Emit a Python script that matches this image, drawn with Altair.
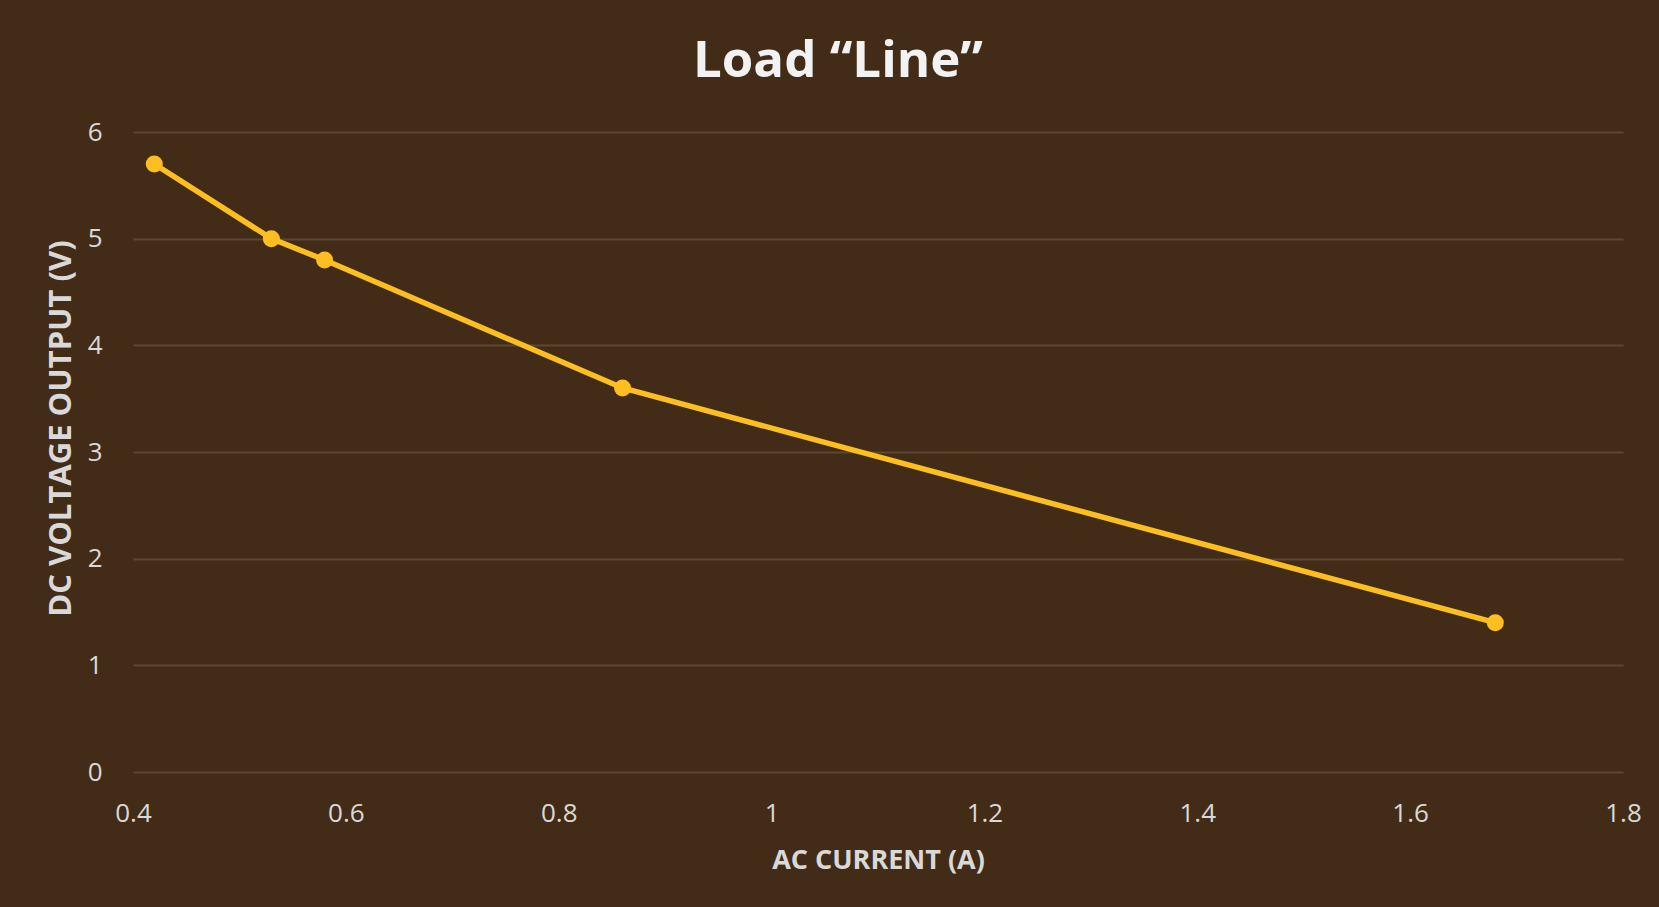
import altair as alt
import pandas as pd

ac_current = [0.42, 0.53, 0.58, 0.86, 1.68]
dc_voltage = [5.7, 5.0, 4.8, 3.6, 1.4]
x_ticks = [0.4, 0.6, 0.8, 1.0, 1.2, 1.4, 1.6, 1.8]
y_ticks = [0, 1, 2, 3, 4, 5, 6]

df = pd.DataFrame({"current": ac_current, "voltage": dc_voltage})

BG = "#432c17"
LINE = "#fdbf1f"
GRID = "#5a4832"
LABEL = "#d9d9d9"
FONT = "Open Sans"

x_enc = alt.X(
    "current:Q",
    scale=alt.Scale(domain=[0.4, 1.8], nice=False, zero=False),
    axis=alt.Axis(
        values=x_ticks,
        format="~g",
        title="AC CURRENT (A)",
        grid=False,
        domain=False,
        ticks=False,
        labelFontSize=26,
        labelColor=LABEL,
        labelFont=FONT,
        labelPadding=28,
        labelFlush=False,
        titleFontSize=27,
        titleFont=FONT,
        titleFontWeight="bold",
        titleColor=LABEL,
        titleBaseline="alphabetic",
        titleY=96,
    ),
)
y_enc = alt.Y(
    "voltage:Q",
    scale=alt.Scale(domain=[0, 6], nice=False),
    axis=alt.Axis(
        values=y_ticks,
        format="~g",
        title="DC VOLTAGE OUTPUT (V)",
        grid=True,
        gridColor=GRID,
        gridWidth=2,
        domain=False,
        ticks=False,
        labelFontSize=26,
        labelColor=LABEL,
        labelFont=FONT,
        labelPadding=31,
        titleFontSize=31,
        titleFont=FONT,
        titleFontWeight="bold",
        titleColor=LABEL,
        titleBaseline="alphabetic",
        titleX=-63,
        titleY=296,
    ),
)

line = alt.Chart(df).mark_line(color=LINE, strokeWidth=5.5).encode(x=x_enc, y=y_enc)
pts = alt.Chart(df).mark_point(filled=True, color=LINE, size=290, opacity=1).encode(
    x="current:Q", y="voltage:Q"
)

chart = (
    alt.layer(line, pts)
    .properties(
        width=1490,
        height=640,
        background=BG,
        padding={"left": 133, "top": 132, "right": 36, "bottom": 135},
        autosize=alt.AutoSizeParams(type="none"),
        title=alt.TitleParams(
            text="Load \u201cLine\u201d",
            fontSize=51,
            font=FONT,
            fontWeight="bold",
            color="#f2f2f2",
            anchor="middle",
            frame="group",
            dx=-40,
            dy=61,
            baseline="alphabetic",
            offset=52,
        ),
    )
    .configure_view(stroke=None)
)

chart.save("out.html", embed_options={"renderer": "svg", "actions": False})
